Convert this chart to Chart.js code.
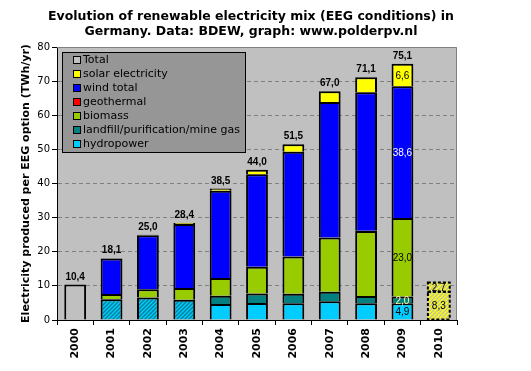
<!DOCTYPE html>
<html><head><meta charset="utf-8">
<script src="https://cdn.jsdelivr.net/npm/chart.js@4/dist/chart.umd.min.js"></script>
<style>html,body{margin:0;padding:0;background:#fff;}canvas{display:block;}</style>
</head><body>
<canvas id="c" width="531" height="371"></canvas>
<script>
// ---- data (TWh/yr) ----
const categories = ['2000','2001','2002','2003','2004','2005','2006','2007','2008','2009','2010'];
const hydropower  = [null, 6.1, 6.6, 5.9, 4.7, 5.0, 4.9, 5.5, 4.9, 4.9, null];
const landfillGas = [null, null, null, null, 2.4, 2.8, 2.8, 2.8, 2.1, 2.0, null];
const biomass     = [null, 1.5, 2.4, 3.5, 5.2, 7.8, 10.9, 15.9, 19.1, 23.0, null];
const geothermal  = [null, null, null, null, null, null, null, null, 0.02, 0.02, null];
const windTotal   = [null, 10.4, 15.8, 18.7, 25.6, 27.1, 30.7, 39.7, 40.6, 38.6, null];
const solar       = [null, 0.1, 0.2, 0.3, 0.6, 1.3, 2.2, 3.1, 4.4, 6.6, null];
const total       = [10.4, null, null, null, null, null, null, null, null, null, null];
const est2010Part1 = [null, null, null, null, null, null, null, null, null, null, 8.3];
const est2010Part2 = [null, null, null, null, null, null, null, null, null, null, 2.7];
const totalLabels = [10.4, 18.1, 25.0, 28.4, 38.5, 44.0, 51.5, 67.0, 71.1, 75.1, null];
const hatchedHydroYears = ['2001','2002','2003'];
const innerLabelYears = ['2009','2010'];

const fmt = v => v.toFixed(1).replace('.', ',');

function hatch(bg, fg, size, lw) {
  const c = document.createElement('canvas');
  c.width = c.height = size;
  const x = c.getContext('2d');
  x.fillStyle = bg; x.fillRect(0, 0, size, size);
  x.strokeStyle = fg; x.lineWidth = lw;
  x.beginPath();
  x.moveTo(-1, size + 1); x.lineTo(size + 1, -1);
  x.moveTo(-1, 1); x.lineTo(1, -1);
  x.moveTo(size - 1, size + 1); x.lineTo(size + 1, size - 1);
  x.stroke();
  return document.getElementById('c').getContext('2d').createPattern(c, 'repeat');
}
const hydroHatch = hatch('#00CCFF', '#007F99', 4, 1.4);
const estHatch = hatch('#FFFF00', '#C0C0B0', 4, 1.4);

const hydroColors = categories.map(c => hatchedHydroYears.includes(c) ? hydroHatch : '#00CCFF');

const base = { borderColor: '#000', borderWidth: 2, stack: 's' };
const datasets = [
  { ...base, label: 'hydropower', data: hydropower, backgroundColor: hydroColors, legendColor: '#00CCFF', labelColor: '#000' },
  { ...base, label: 'landfill/purification/mine gas', data: landfillGas, backgroundColor: '#008080', legendColor: '#008080', labelColor: '#FFFF99' },
  { ...base, label: 'biomass', data: biomass, backgroundColor: '#99CC00', legendColor: '#99CC00', labelColor: '#000' },
  { ...base, label: 'geothermal', data: geothermal, backgroundColor: '#FF0000', legendColor: '#FF0000', labelColor: null },
  { ...base, label: 'wind total', data: windTotal, backgroundColor: '#0000FF', legendColor: '#0000FF', labelColor: '#FFF' },
  { ...base, label: 'solar electricity', data: solar, backgroundColor: '#FFFF00', legendColor: '#FFFF00', labelColor: '#000' },
  { ...base, label: 'Total', data: total, backgroundColor: '#C0C0C0', legendColor: '#C0C0C0', labelColor: null },
  { ...base, label: 'estimate 2010 (1)', data: est2010Part1, backgroundColor: estHatch, borderWidth: 0, dashed: true, noLegend: true, labelColor: '#000' },
  { ...base, label: 'estimate 2010 (2)', data: est2010Part2, backgroundColor: estHatch, borderWidth: 0, dashed: true, noLegend: true, labelColor: '#000' }
];

const deco = {
  id: 'deco',
  beforeDraw(chart) {
    const { ctx, chartArea: a } = chart;
    ctx.save();
    ctx.fillStyle = '#C0C0C0';
    ctx.fillRect(a.left, a.top, a.right - a.left, a.bottom - a.top);
    ctx.restore();
  },
  afterDatasetsDraw(chart) {
    const { ctx, chartArea: a } = chart;
    const y = chart.scales.y;
    ctx.save();
    // dashed outlines of 2010 estimate
    chart.data.datasets.forEach((ds, di) => {
      if (!ds.dashed) return;
      chart.getDatasetMeta(di).data.forEach((el, i) => {
        if (ds.data[i] == null) return;
        const p = el.getProps(['x', 'y', 'base', 'width'], true);
        ctx.setLineDash([3, 2]);
        ctx.lineWidth = 2;
        ctx.strokeStyle = '#000';
        ctx.strokeRect(p.x - p.width / 2, p.y, p.width, p.base - p.y);
      });
    });
    ctx.setLineDash([]);
    // plot border (top/right)
    ctx.strokeStyle = '#808080';
    ctx.lineWidth = 1;
    ctx.beginPath();
    ctx.moveTo(a.left, a.top + 0.5); ctx.lineTo(a.right - 0.5, a.top + 0.5); ctx.lineTo(a.right - 0.5, a.bottom);
    ctx.stroke();
    // total labels
    ctx.fillStyle = '#000';
    ctx.font = 'bold 10px "Liberation Sans"';
    ctx.textAlign = 'center';
    ctx.textBaseline = 'alphabetic';
    const xs = chart.scales.x;
    totalLabels.forEach((v, i) => {
      if (v == null) return;
      ctx.fillText(fmt(v), xs.getPixelForValue(i), y.getPixelForValue(v) - 5);
    });
    // inner labels
    ctx.font = '10px "Liberation Sans"';
    ctx.textBaseline = 'middle';
    chart.data.datasets.forEach((ds, di) => {
      if (!ds.labelColor) return;
      chart.getDatasetMeta(di).data.forEach((el, i) => {
        if (!innerLabelYears.includes(categories[i]) || ds.data[i] == null) return;
        const p = el.getProps(['x', 'y', 'base'], true);
        ctx.fillStyle = ds.labelColor;
        ctx.fillText(fmt(ds.data[i]), p.x, (p.y + p.base) / 2 + 1);
      });
    });
    ctx.restore();
  },
  afterDraw(chart) {
    const { ctx } = chart;
    ctx.save();
    // title
    ctx.fillStyle = '#000';
    ctx.font = 'bold 12.5px "DejaVu Sans"';
    ctx.textAlign = 'center';
    ctx.textBaseline = 'alphabetic';
    ctx.fillText('Evolution of renewable electricity mix (EEG conditions) in', 251, 20);
    ctx.fillText('Germany. Data: BDEW, graph: www.polderpv.nl', 251, 35);
    // legend
    const items = chart.data.datasets.filter(d => !d.noLegend).slice().reverse();
    ctx.fillStyle = '#969696';
    ctx.fillRect(62, 52, 183, 100);
    ctx.strokeStyle = '#000';
    ctx.lineWidth = 1;
    ctx.strokeRect(62.5, 52.5, 183, 100);
    ctx.font = '11px "DejaVu Sans"';
    ctx.textAlign = 'left';
    ctx.textBaseline = 'middle';
    items.forEach((d, k) => {
      const cy = 60 + k * 14;
      ctx.fillStyle = d.legendColor;
      ctx.fillRect(73.5, cy - 3.5, 7, 7);
      ctx.strokeRect(73.5, cy - 3.5, 7, 7);
      ctx.fillStyle = '#000';
      ctx.fillText(d.label, 83, cy + 0.5);
    });
    ctx.restore();
  }
};

new Chart(document.getElementById('c'), {
  type: 'bar',
  data: { labels: categories, datasets },
  options: {
    responsive: false,
    animation: false,
    devicePixelRatio: 1,
    layout: { padding: { top: 47, right: 74, bottom: 0, left: 20 } },
    datasets: { bar: { barPercentage: 0.6, categoryPercentage: 1 } },
    plugins: { legend: { display: false }, tooltip: { enabled: false }, title: { display: false } },
    scales: {
      x: {
        stacked: true,
        grid: { offset: true, drawOnChartArea: false, drawTicks: true, tickLength: 5, tickColor: '#000', tickWidth: 1 },
        border: { display: true, color: '#000', width: 1 },
        ticks: { color: '#000', font: { family: 'DejaVu Sans', size: 11, weight: 'bold' }, minRotation: 90, maxRotation: 90, padding: 3, autoSkip: false },
        afterFit: s => { s.height = 51; }
      },
      y: {
        stacked: true, min: 0, max: 80,
        ticks: { stepSize: 10, color: '#000', font: { family: 'DejaVu Sans', size: 10 }, padding: 2 },
        grid: { color: '#808080', lineWidth: 1, tickColor: '#000', tickLength: 5, tickWidth: 1, tickBorderDash: [] },
        border: { display: true, color: '#000', width: 1, dash: [4, 3] },
        title: { display: true, text: 'Electricity produced per EEG option (TWh/yr)', color: '#000', font: { family: 'DejaVu Sans', size: 11, weight: 'bold' }, padding: { top: 0, bottom: 0 } },
        afterFit: s => { s.width = 37; }
      }
    }
  },
  plugins: [deco]
});
</script>
</body></html>
